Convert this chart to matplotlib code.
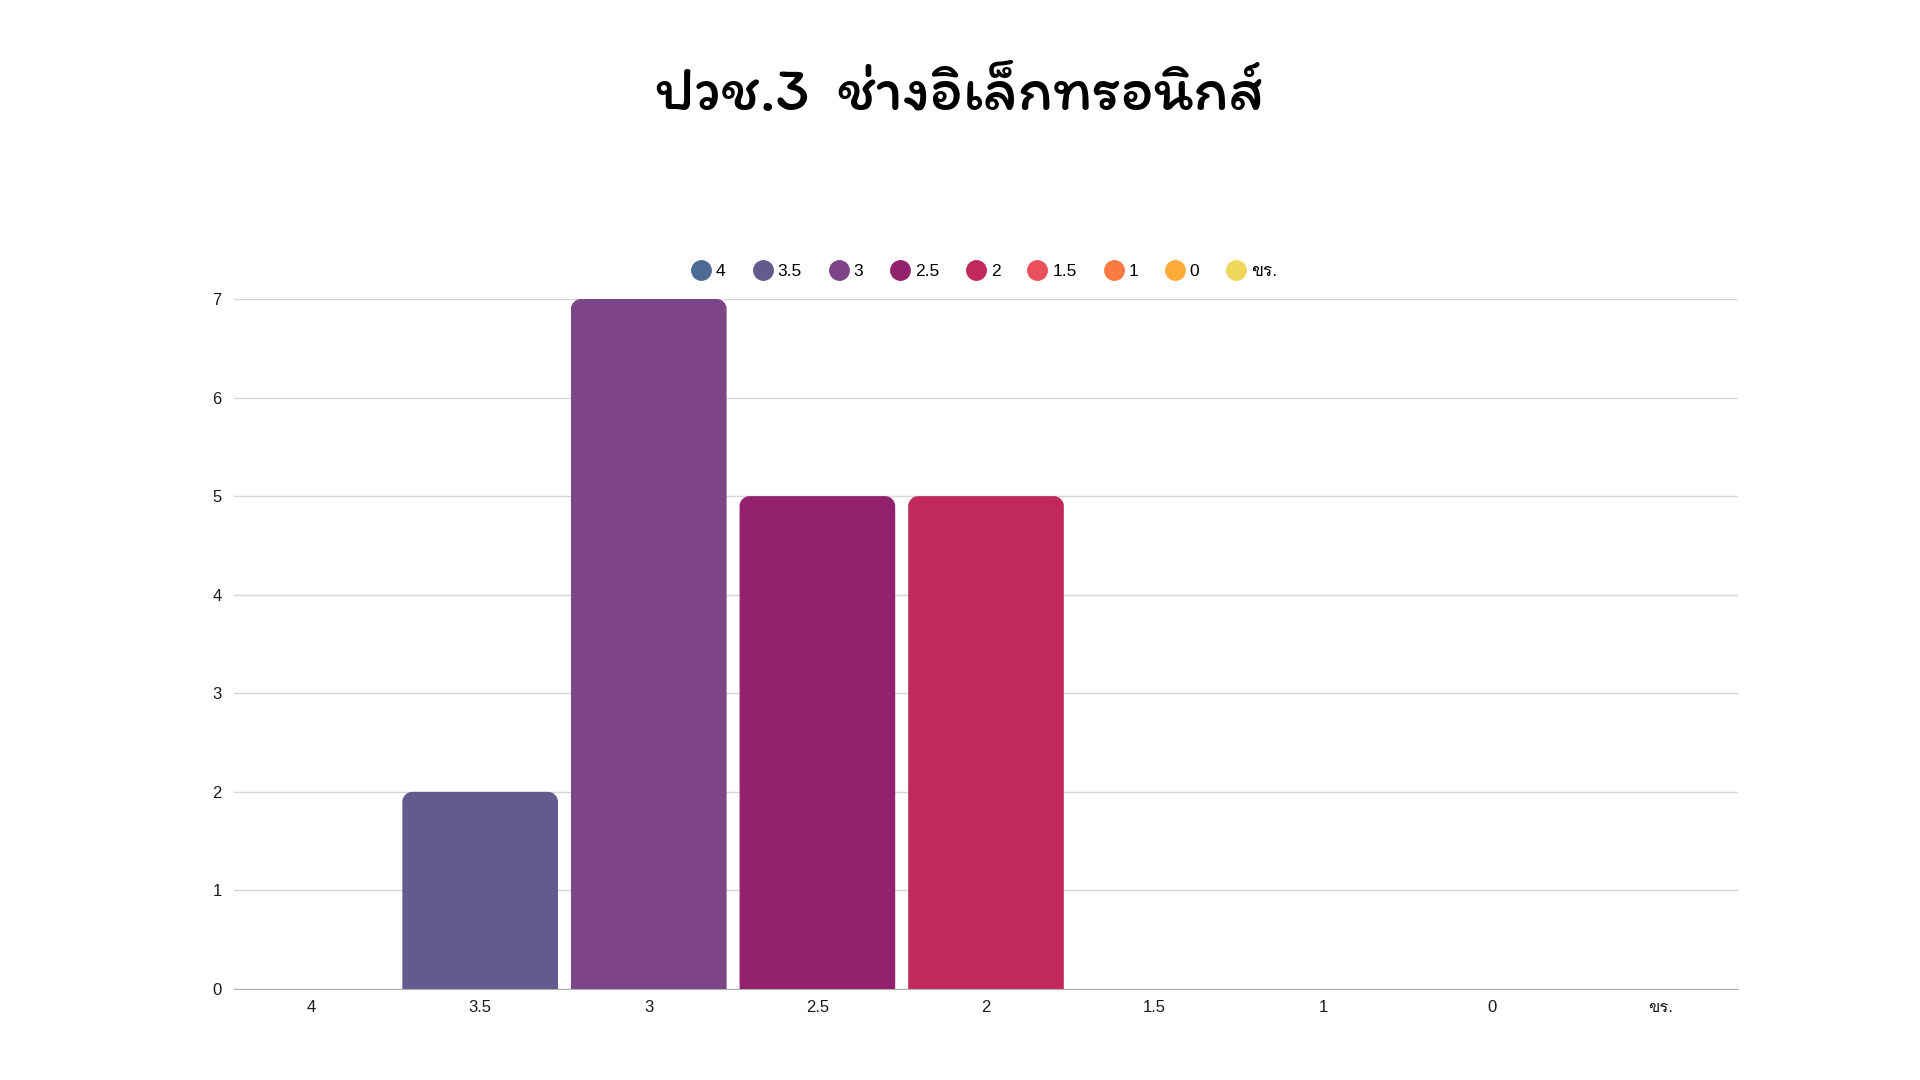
import numpy as np
import matplotlib
matplotlib.use("Agg")
import matplotlib.pyplot as plt
from matplotlib import font_manager as fm
from matplotlib.path import Path
from matplotlib.patches import PathPatch
from matplotlib.lines import Line2D

# data
categories = ["4", "3.5", "3", "2.5", "2", "1.5", "1", "0", "ขร."]
counts = [0, 2, 7, 5, 5, 0, 0, 0, 0]
colors = ["#4e6a97", "#635b8e", "#7d4587", "#93216d", "#c0285e",
          "#ea505c", "#fb7a42", "#fdac3a", "#eed75b"]
title = "ปวช.3  ช่างอิเล็กทรอนิกส์"

names = {f.name for f in fm.fontManager.ttflist}
title_font = next(n for n in ["Itim", "Sriracha", "Kodchasan"] if n in names)

plt.rcParams['font.family'] = ['Liberation Sans', 'Loma', 'DejaVu Sans']

fig = plt.figure(figsize=(19.2, 10.8), dpi=100)
ax = fig.add_axes([234 / 1920, 1 - 989 / 1080, 1504 / 1920, 690 / 1080])

x = np.arange(len(categories))
ax.set_xlim(-0.46, len(categories) - 0.54)
ax.set_ylim(0, 7)


def rounded_bar(ax, xc, h, w, color, r_px=10):
    # rounded top corners, radius given in pixels
    t = ax.transData
    p0 = t.transform((0, 0))
    p1 = t.transform((1, 1))
    rx = r_px / (p1[0] - p0[0])
    ry = r_px / (p1[1] - p0[1])
    ry = min(ry, h / 2)
    x0, x1 = xc - w / 2, xc + w / 2
    k = 0.5523
    verts = [(x0, 0), (x0, h - ry),
             (x0, h - ry + k * ry), (x0 + rx - k * rx, h), (x0 + rx, h),
             (x1 - rx, h),
             (x1 - rx + k * rx, h), (x1, h - ry + k * ry), (x1, h - ry),
             (x1, 0), (x0, 0)]
    codes = [Path.MOVETO, Path.LINETO,
             Path.CURVE4, Path.CURVE4, Path.CURVE4,
             Path.LINETO,
             Path.CURVE4, Path.CURVE4, Path.CURVE4,
             Path.LINETO, Path.CLOSEPOLY]
    ax.add_patch(PathPatch(Path(verts, codes), facecolor=color,
                           edgecolor='none', zorder=3))


for xi, h, c in zip(x, counts, colors):
    if h > 0:
        rounded_bar(ax, xi, h, 0.923, c)

ax.set_yticks(range(0, 8))
ax.set_xticks(x)
ax.set_xticklabels(categories)
ax.tick_params(axis='both', length=0, labelsize=12, colors='#1a1a1a')
ax.tick_params(axis='y', pad=9)
ax.tick_params(axis='x', pad=8)
ax.grid(axis='y', color='#d6d6d6', linewidth=1)
ax.set_axisbelow(True)
for s in ['left', 'right', 'top']:
    ax.spines[s].set_visible(False)
ax.spines['bottom'].set_color('#b0b0b0')
ax.spines['bottom'].set_zorder(4)

handles = [Line2D([], [], marker='o', linestyle='none', markersize=14,
                  markerfacecolor=c, markeredgecolor=c) for c in colors]
fig.legend(handles, categories, loc='center', bbox_to_anchor=(0.513, 0.749),
           ncol=len(categories), frameon=False, fontsize=12.5,
           handletextpad=0.35, columnspacing=1.63, handlelength=1.0)

fig.text(0.5, 0.911, title, ha='center', va='center', fontsize=45,
         family=title_font, fontweight='bold')

fig.savefig("out.png")
